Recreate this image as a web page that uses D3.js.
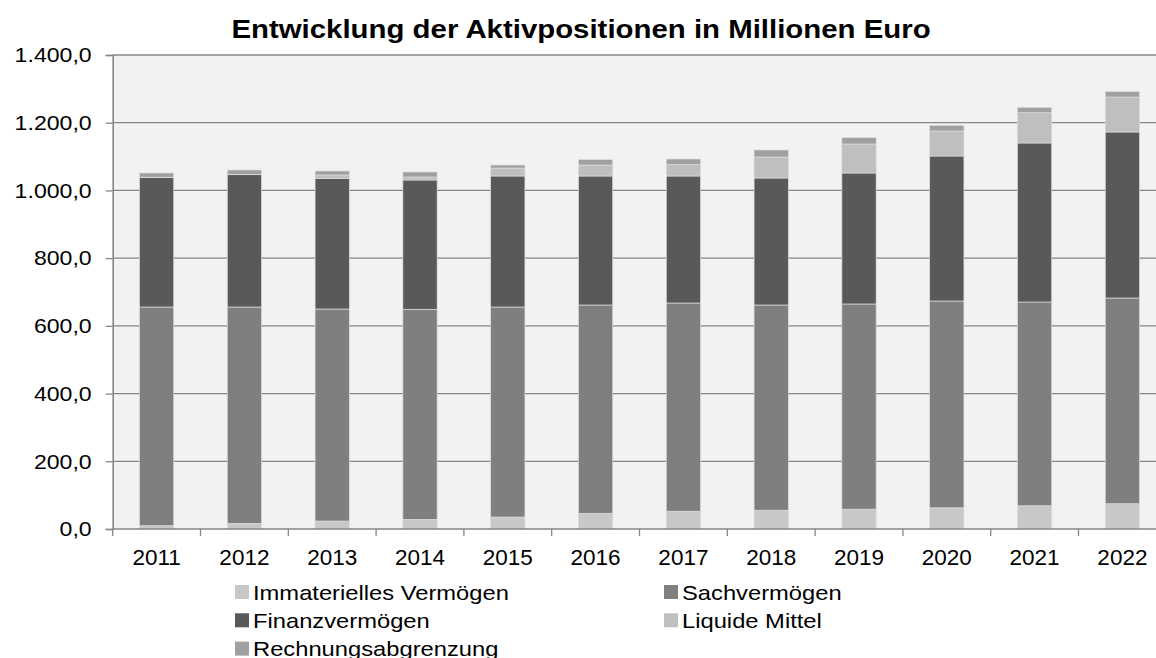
<!DOCTYPE html>
<html>
<head>
  <meta charset="utf-8">
  <title>Aktivpositionen</title>
  <style>
    body { margin: 0; background: #fff; }
    svg text { font-family: "Liberation Sans", Arial, sans-serif; fill: #000; }
  </style>
</head>
<body>
<svg width="1156" height="658" class="chart"></svg>
<script src="https://cdnjs.cloudflare.com/ajax/libs/d3/7.8.5/d3.min.js"></script>
<script type="text/javascript">
  var years = ['2011', '2012', '2013', '2014', '2015', '2016', '2017', '2018', '2019', '2020', '2021', '2022']

  // values per position, in Mio. Euro
  var immateriell = [9.8, 16.7, 23.6, 28.5, 35.4, 46.3, 52.5, 55.5, 58.6, 62.6, 68.6, 74.7]
  var sachvermoegen = [645.9, 639.0, 626.2, 620.4, 620.3, 615.3, 615.0, 606.1, 606.0, 610.8, 601.9, 607.6]
  var finanzvermoegen = [382.1, 390.8, 385.9, 381.9, 386.9, 381.0, 375.1, 375.1, 386.9, 428.3, 469.6, 490.3]
  var liquide = [1.2, 1.0, 9.9, 8.9, 23.4, 32.4, 34.5, 62.0, 85.6, 73.8, 89.5, 103.3]
  var rechnungsabgrenzung = [12.5, 12.8, 11.8, 14.8, 9.0, 15.9, 15.7, 20.7, 18.7, 16.8, 15.8, 15.8]

  var yTicks = [0, 200, 400, 600, 800, 1000, 1200, 1400]

  var seriesNames = ['Immaterielles Vermögen', 'Sachvermögen', 'Finanzvermögen', 'Liquide Mittel', 'Rechnungsabgrenzung']
  var seriesValues = [immateriell, sachvermoegen, finanzvermoegen, liquide, rechnungsabgrenzung]
  var seriesColors = ['#c8c8c8', '#7f7f7f', '#595959', '#bfbfbf', '#a0a0a0']

  var rows = years.map(function(y, i){
    var row = {year: y}
    seriesNames.forEach(function(n, j){ row[n] = seriesValues[j][i] })
    return row
  })

  var de = d3.formatLocale({decimal: ',', thousands: '.', grouping: [3], currency: ['', ' €']})
  var fmt = de.format(',.1f')

  // the source font runs a bit wider than Arial
  function widen(sel, k){
    sel.each(function(){
      var w = this.getComputedTextLength()
      d3.select(this).attr('textLength', w * k).attr('lengthAdjust', 'spacingAndGlyphs')
    })
  }

  var svg = d3.select('.chart')
  var plotLeft = 112.7, plotRight = 1166.3, plotTop = 55, plotBottom = 529

  var x = d3.scaleBand().domain(years).range([plotLeft, plotRight]).paddingInner(0.61).paddingOuter(0.305)
  var y = d3.scaleLinear().domain([0, 1400]).range([plotBottom, plotTop])

  // plot area
  svg.append('rect')
    .attr('x', plotLeft).attr('y', plotTop)
    .attr('width', plotRight - plotLeft).attr('height', plotBottom - plotTop)
    .attr('fill', '#f2f2f2')

  // gridlines
  svg.append('g').selectAll('line')
    .data(yTicks.slice(1))
    .enter().append('line')
    .attr('x1', plotLeft).attr('x2', plotRight)
    .attr('y1', function(d){ return y(d) }).attr('y2', function(d){ return y(d) })
    .attr('stroke', '#868686').attr('stroke-width', 1.3)

  var stack = d3.stack().keys(seriesNames)(rows)

  svg.append('g').selectAll('g')
    .data(stack)
    .enter().append('g')
    .attr('fill', function(d, i){ return seriesColors[i] })
    .selectAll('rect')
    .data(function(d){ return d })
    .enter().append('rect')
    .attr('x', function(d){ return x(d.data.year) })
    .attr('width', x.bandwidth())
    .attr('y', function(d){ return y(d[1]) })
    .attr('height', function(d){ return y(d[0]) - y(d[1]) })
    .attr('stroke', '#dcdcdc').attr('stroke-width', 0.7)

  // y axis
  var yAxis = svg.append('g')
    .attr('transform', 'translate(' + plotLeft + ',0)')
    .call(d3.axisLeft(y).tickValues(yTicks).tickFormat(fmt).tickSize(7).tickPadding(14))
  yAxis.select('.domain').attr('stroke', '#868686').attr('stroke-width', 1.6)
  yAxis.selectAll('.tick line').attr('stroke', '#868686').attr('stroke-width', 1.3)
  yAxis.selectAll('text')
    .attr('font-size', 21).attr('font-family', '"Liberation Sans", Arial, sans-serif').attr('fill', '#000')
    .call(widen, 1.1)

  // x axis, ticks sit between the categories
  var xAxis = svg.append('g')
    .attr('transform', 'translate(0,' + plotBottom + ')')
    .call(d3.axisBottom(x).tickSize(0).tickPadding(20))
  xAxis.select('.domain').remove()
  xAxis.selectAll('text')
    .attr('font-size', 22.5).attr('font-family', '"Liberation Sans", Arial, sans-serif').attr('fill', '#000')
  svg.append('line')
    .attr('x1', plotLeft).attr('x2', plotRight).attr('y1', plotBottom).attr('y2', plotBottom)
    .attr('stroke', '#868686').attr('stroke-width', 1.6)
  var step = x.step()
  svg.append('g').selectAll('line')
    .data(d3.range(years.length + 1))
    .enter().append('line')
    .attr('x1', function(d){ return plotLeft + d * step }).attr('x2', function(d){ return plotLeft + d * step })
    .attr('y1', plotBottom).attr('y2', plotBottom + 7)
    .attr('stroke', '#868686').attr('stroke-width', 1.3)

  // title
  svg.append('text')
    .attr('x', 581).attr('y', 38)
    .attr('text-anchor', 'middle')
    .attr('font-size', 26).attr('font-weight', 'bold')
    .text('Entwicklung der Aktivpositionen in Millionen Euro')
    .call(widen, 1.13)

  // legend, two columns
  var legend = svg.append('g').selectAll('g')
    .data(seriesNames)
    .enter().append('g')
    .attr('transform', function(d, i){
      return 'translate(' + (i % 2 === 0 ? 235 : 664) + ',' + (592 + Math.floor(i / 2) * 28.3) + ')'
    })
  legend.append('rect')
    .attr('x', 0).attr('y', -7).attr('width', 14).attr('height', 14)
    .attr('fill', function(d, i){ return seriesColors[i] })
  legend.append('text')
    .attr('x', 18).attr('y', 7.5)
    .attr('font-size', 21)
    .text(function(d){ return d })
    .call(widen, 1.13)
</script>
</body>
</html>
